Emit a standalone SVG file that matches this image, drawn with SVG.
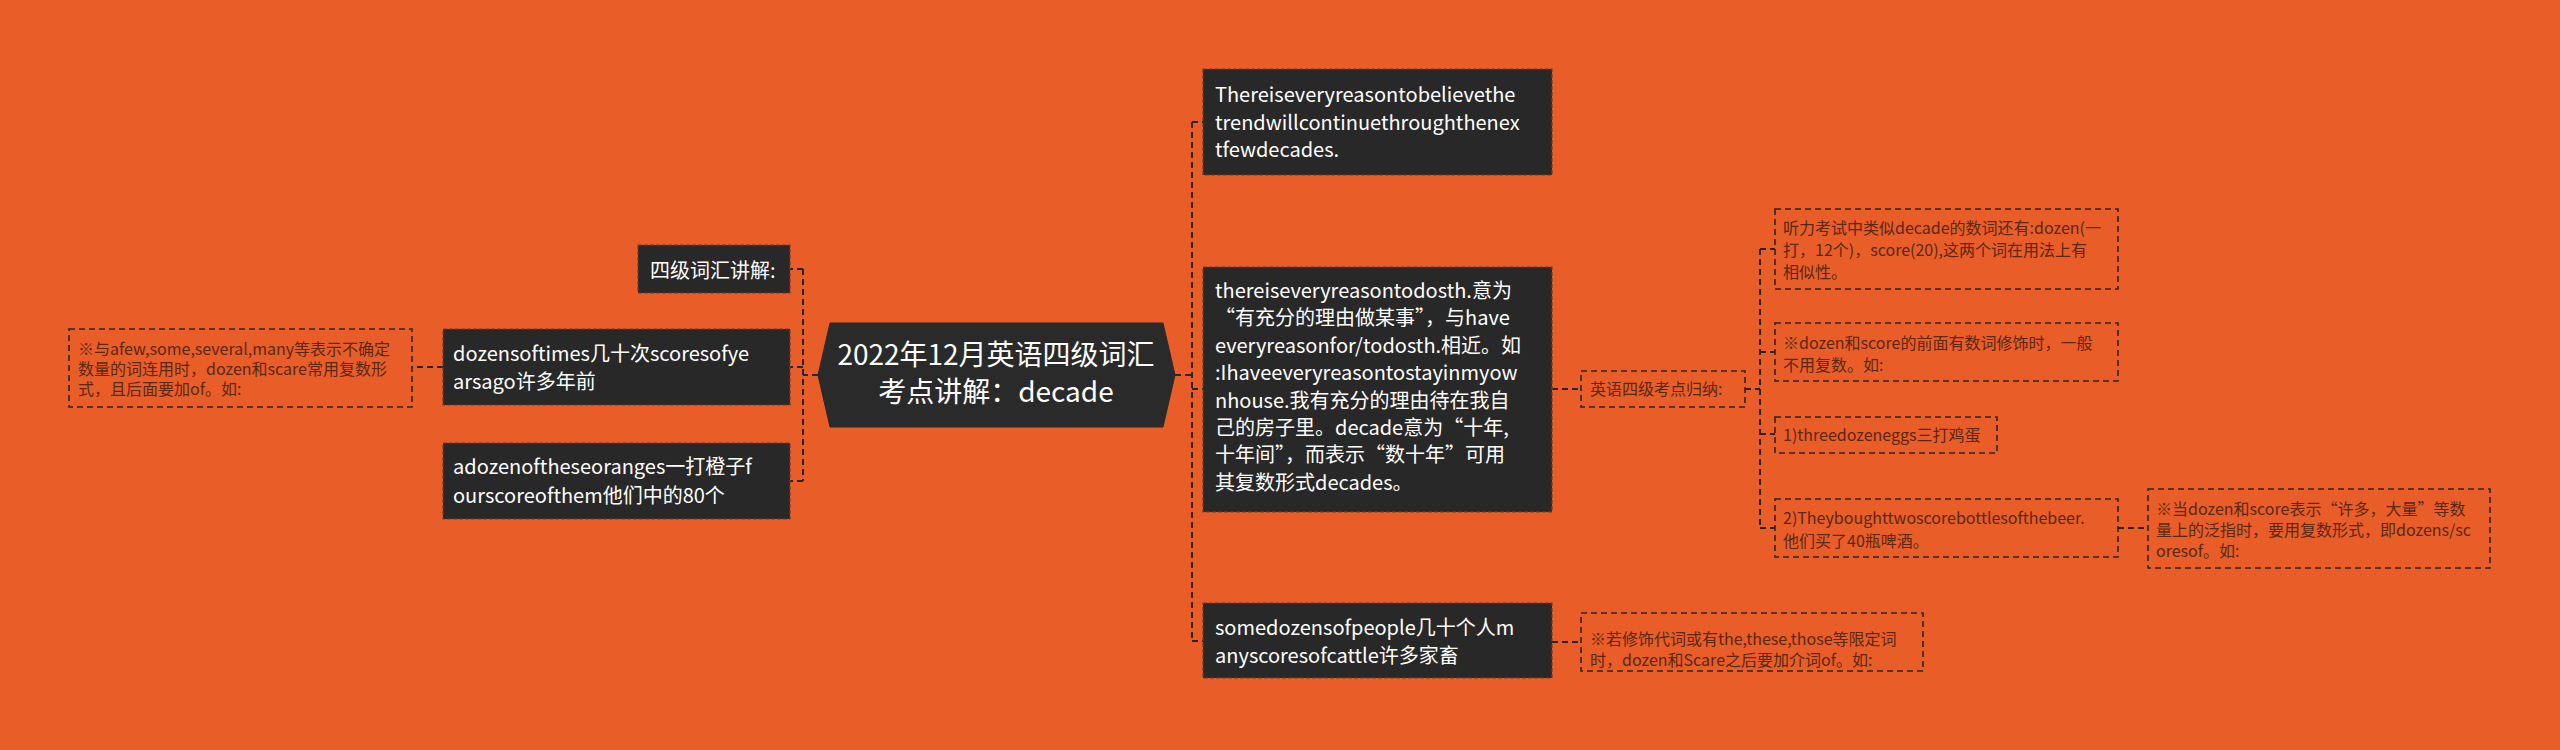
<svg xmlns="http://www.w3.org/2000/svg" width="2560" height="750" viewBox="0 0 2560 750">
<style>
.bg{fill:#E95D29}
.dark{fill:#282828;stroke:#7a3a1c;stroke-width:1.2;stroke-dasharray:4 2}
.center{fill:#2a2a2a;stroke:#2a2a2a;stroke-width:1}
.light{fill:none;stroke:#2e2420;stroke-width:1.6;stroke-dasharray:6 4}
.conn{fill:none;stroke:#2a2422;stroke-width:2;stroke-dasharray:6 4}
.tw{font-family:"Noto Sans CJK SC","Noto Sans",sans-serif;font-size:20px;fill:#ffffff}
.tc{font-family:"Noto Sans CJK SC","Noto Sans",sans-serif;font-size:28px;fill:#ffffff;text-anchor:middle}
.tl{font-family:"Noto Sans CJK SC","Noto Sans",sans-serif;font-size:16px;fill:#5a2812}
</style>
<rect class="bg" x="0" y="0" width="2560" height="750"/>
<g id="connectors">
<path class="conn" d="M818,375 H803 M803,269 V481 M803,269 H790 M803,367 H790 M803,481 H790"/>
<path class="conn" d="M443,367 H412"/>
<path class="conn" d="M1175,375 H1192 M1192,122 V641 M1192,122 H1203 M1192,389 H1203 M1192,641 H1203"/>
<path class="conn" d="M1552,389 H1581"/>
<path class="conn" d="M1745,389 H1760 M1760,249 V528 M1760,249 H1775 M1760,352 H1775 M1760,434 H1775 M1760,528 H1775"/>
<path class="conn" d="M1552,642 H1581"/>
<path class="conn" d="M2118,528 H2148"/>
</g>
<g id="center">
<polygon class="center" points="818,375 830,323 1163,323 1175,375 1163,427 830,427"/>
<text class="tc" x="996" y="365">2022年12月英语四级词汇</text>
<text class="tc" x="996" y="402">考点讲解：decade</text>
</g>
<g id="left-title">
<rect class="dark" x="638" y="245" width="152" height="48"/>
<text class="tw" x="650" y="278">四级词汇讲解:</text>
</g>
<g id="left-dozens">
<rect class="dark" x="443" y="329" width="347" height="76"/>
<text class="tw" x="453" y="361">dozensoftimes几十次scoresofye</text>
<text class="tw" x="453" y="389">arsago许多年前</text>
</g>
<g id="left-note">
<rect class="light" x="69" y="329" width="343" height="78"/>
<text class="tl" x="78" y="355">※与afew,some,several,many等表示不确定</text>
<text class="tl" x="78" y="375">数量的词连用时，dozen和scare常用复数形</text>
<text class="tl" x="78" y="395">式，且后面要加of。如:</text>
</g>
<g id="left-oranges">
<rect class="dark" x="443" y="443" width="347" height="76"/>
<text class="tw" x="453" y="474">adozenoftheseoranges一打橙子f</text>
<text class="tw" x="453" y="503">ourscoreofthem他们中的80个</text>
</g>
<g id="right-trend">
<rect class="dark" x="1203" y="69" width="349" height="106"/>
<text class="tw" x="1215" y="102">Thereiseveryreasontobelievethe</text>
<text class="tw" x="1215" y="130">trendwillcontinuethroughthenex</text>
<text class="tw" x="1215" y="157">tfewdecades.</text>
</g>
<g id="right-reason">
<rect class="dark" x="1203" y="267" width="349" height="245"/>
<text class="tw" x="1215" y="298">thereiseveryreasontodosth.意为</text>
<text class="tw" x="1215" y="325">“有充分的理由做某事”，与have</text>
<text class="tw" x="1215" y="353">everyreasonfor/todosth.相近。如</text>
<text class="tw" x="1215" y="380">:Ihaveeveryreasontostayinmyow</text>
<text class="tw" x="1215" y="408">nhouse.我有充分的理由待在我自</text>
<text class="tw" x="1215" y="435">己的房子里。decade意为“十年,</text>
<text class="tw" x="1215" y="462">十年间”，而表示“数十年”可用</text>
<text class="tw" x="1215" y="490">其复数形式decades。</text>
</g>
<g id="right-people">
<rect class="dark" x="1203" y="603" width="349" height="75"/>
<text class="tw" x="1215" y="635">somedozensofpeople几十个人m</text>
<text class="tw" x="1215" y="663">anyscoresofcattle许多家畜</text>
</g>
<g id="summary">
<rect class="light" x="1581" y="371" width="164" height="36"/>
<text class="tl" x="1590" y="395">英语四级考点归纳:</text>
</g>
<g id="note-listen">
<rect class="light" x="1775" y="209" width="343" height="80"/>
<text class="tl" x="1783" y="234">听力考试中类似decade的数词还有:dozen(一</text>
<text class="tl" x="1783" y="256">打，12个)，score(20),这两个词在用法上有</text>
<text class="tl" x="1783" y="278">相似性。</text>
</g>
<g id="note-numeral">
<rect class="light" x="1775" y="323" width="343" height="58"/>
<text class="tl" x="1783" y="349">※dozen和score的前面有数词修饰时，一般</text>
<text class="tl" x="1783" y="371">不用复数。如:</text>
</g>
<g id="note-eggs">
<rect class="light" x="1775" y="417" width="222" height="36"/>
<text class="tl" x="1783" y="441">1)threedozeneggs三打鸡蛋</text>
</g>
<g id="note-beer">
<rect class="light" x="1775" y="499" width="343" height="58"/>
<text class="tl" x="1783" y="524">2)Theyboughttwoscorebottlesofthebeer.</text>
<text class="tl" x="1783" y="547">他们买了40瓶啤酒。</text>
</g>
<g id="note-many">
<rect class="light" x="2148" y="489" width="342" height="79"/>
<text class="tl" x="2156" y="515">※当dozen和score表示“许多，大量”等数</text>
<text class="tl" x="2156" y="536">量上的泛指时，要用复数形式，即dozens/sc</text>
<text class="tl" x="2156" y="557">oresof。如:</text>
</g>
<g id="note-pronoun">
<rect class="light" x="1581" y="613" width="342" height="58"/>
<text class="tl" x="1590" y="645">※若修饰代词或有the,these,those等限定词</text>
<text class="tl" x="1590" y="666">时，dozen和Scare之后要加介词of。如:</text>
</g>
</svg>
